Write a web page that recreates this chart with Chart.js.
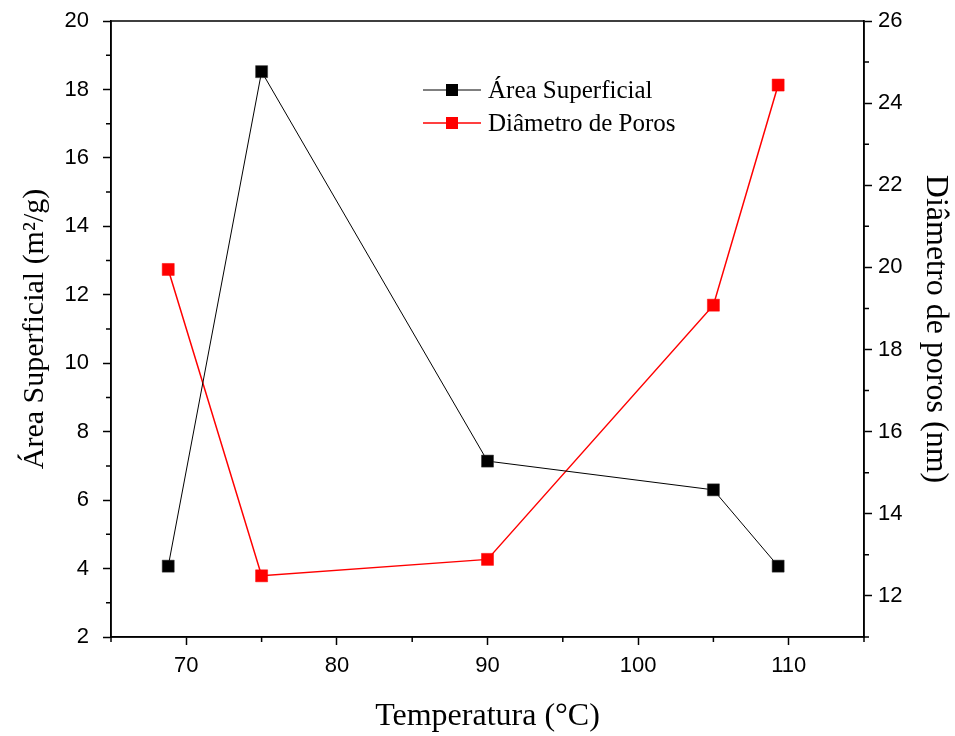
<!DOCTYPE html>
<html>
<head>
<meta charset="utf-8">
<script src="https://cdn.jsdelivr.net/npm/chart.js@4"></script>
<style>
  html, body { margin: 0; padding: 0; background: #fff; }
  #wrap { width: 955px; height: 736px; }
</style>
</head>
<body>
<div id="wrap"><canvas id="chartArea" width="955" height="736"></canvas></div>
<script>
// values
const temperatures = [68.8, 75, 90, 105, 109.3];
const areaValues = [4.07, 18.52, 7.14, 6.3, 4.07];
const poreValues = [19.95, 12.49, 12.89, 19.08, 24.44];

const xTicks = [70, 80, 90, 100, 110];
const xMinor = [65, 75, 85, 95, 105, 115];
const yTicks = [2, 4, 6, 8, 10, 12, 14, 16, 18, 20];
const yMinor = [3, 5, 7, 9, 11, 13, 15, 17, 19];
const y1Ticks = [12, 14, 16, 18, 20, 22, 24, 26];
const y1Minor = [11, 13, 15, 17, 19, 21, 23, 25];

const serif = "'Liberation Serif', 'Times New Roman', serif";
const sans = "'Liberation Sans', Arial, sans-serif";

function points(ys) {
  return temperatures.map((t, i) => ({ x: t, y: ys[i] }));
}

function fixTicks(values) {
  return function (scale) {
    scale.ticks = values.map(v => ({ value: v }));
  };
}

// fixed box sizes so the plot area lands where it is in the picture
function fixSize(w, h) {
  return function (s) {
    if (w) s.width = w;
    if (h) s.height = h;
    s.paddingTop = 0;
    s.paddingBottom = 0;
    s.paddingLeft = 0;
    s.paddingRight = 0;
  };
}

// box round the plot, short minor ticks and the legend inside the plot
const framePlugin = {
  id: 'frame',
  afterDraw(chart) {
    const { ctx, chartArea: a, scales } = chart;
    ctx.save();
    ctx.strokeStyle = '#000';
    ctx.lineWidth = 1.5;
    ctx.strokeRect(a.left, a.top, a.right - a.left, a.bottom - a.top);

    ctx.beginPath();
    for (const v of xMinor) {
      const px = scales.x.getPixelForValue(v);
      ctx.moveTo(px, a.bottom);
      ctx.lineTo(px, a.bottom + 5);
    }
    for (const v of yMinor) {
      const py = scales.y.getPixelForValue(v);
      ctx.moveTo(a.left, py);
      ctx.lineTo(a.left - 5, py);
    }
    for (const v of y1Minor) {
      const py = scales.y1.getPixelForValue(v);
      ctx.moveTo(a.right, py);
      ctx.lineTo(a.right + 5, py);
    }
    ctx.stroke();

    // legend
    let ly = 90;
    ctx.font = '25px ' + serif;
    ctx.textBaseline = 'middle';
    for (const ds of chart.data.datasets) {
      ctx.strokeStyle = ds.borderColor;
      ctx.lineWidth = ds.borderWidth;
      ctx.beginPath();
      ctx.moveTo(423, ly);
      ctx.lineTo(481, ly);
      ctx.stroke();
      ctx.fillStyle = ds.pointBackgroundColor;
      ctx.fillRect(446, ly - 6, 12, 12);
      ctx.fillStyle = '#000';
      ctx.fillText(ds.label, 488, ly + 1);
      ly += 33;
    }
    ctx.restore();
  }
};

const ctx = document.getElementById('chartArea');
const chart = new Chart(ctx, {
  type: 'line',
  data: {
    datasets: [
      {
        label: 'Área Superficial',
        data: points(areaValues),
        borderColor: '#000',
        borderWidth: 1,
        pointStyle: 'rect',
        pointRadius: 8.5,
        pointBorderWidth: 0.5,
        pointBackgroundColor: '#000',
        pointBorderColor: '#333',
        yAxisID: 'y',
      },
      {
        label: 'Diâmetro de Poros',
        data: points(poreValues),
        borderColor: '#ff0000',
        borderWidth: 1.5,
        pointStyle: 'rect',
        pointRadius: 8.5,
        pointBorderWidth: 0.5,
        pointBackgroundColor: '#ff0000',
        pointBorderColor: '#ff0000',
        yAxisID: 'y1',
      },
    ]
  },
  options: {
    responsive: false,
    animation: false,
    layout: { padding: { top: 21, left: 0, right: 0, bottom: 0 } },
    plugins: {
      legend: { display: false },
      tooltip: { enabled: false },
    },
    scales: {
      x: {
        type: 'linear',
        position: 'bottom',
        min: 65,
        max: 115,
        afterBuildTicks: fixTicks(xTicks),
        afterFit: fixSize(0, 99),
        ticks: { color: '#000', font: { family: sans, size: 22 }, padding: 8 },
        grid: { drawOnChartArea: false, tickLength: 8, tickColor: '#000', tickWidth: 1.5 },
        border: { color: '#000', width: 1.5 },
        title: {
          display: true,
          text: 'Temperatura (°C)',
          color: '#000',
          font: { family: serif, size: 32 },
          padding: { top: 0, bottom: 0 },
        },
      },
      y: {
        type: 'linear',
        position: 'left',
        min: 2,
        max: 20,
        afterBuildTicks: fixTicks(yTicks),
        afterFit: fixSize(111, 0),
        ticks: { color: '#000', font: { family: sans, size: 22 }, padding: 14 },
        grid: { drawOnChartArea: false, tickLength: 8, tickColor: '#000', tickWidth: 1.5 },
        border: { color: '#000', width: 1.5 },
        title: {
          display: true,
          text: 'Área Superficial (m²/g)',
          color: '#000',
          font: { family: serif, size: 30 },
          padding: { top: 17, bottom: 0 },
        },
      },
      y1: {
        type: 'linear',
        position: 'right',
        min: 11,
        max: 26,
        afterBuildTicks: fixTicks(y1Ticks),
        afterFit: fixSize(91, 0),
        ticks: { color: '#000', font: { family: sans, size: 22 }, padding: 6 },
        grid: { drawOnChartArea: false, tickLength: 8, tickColor: '#000', tickWidth: 1.5 },
        border: { color: '#000', width: 1.5 },
        title: {
          display: true,
          text: 'Diâmetro de poros (nm)',
          color: '#000',
          font: { family: serif, size: 32 },
          padding: { top: 0, bottom: 0 },
        },
      },
    }
  },
  plugins: [framePlugin],
});
</script>
</body>
</html>
